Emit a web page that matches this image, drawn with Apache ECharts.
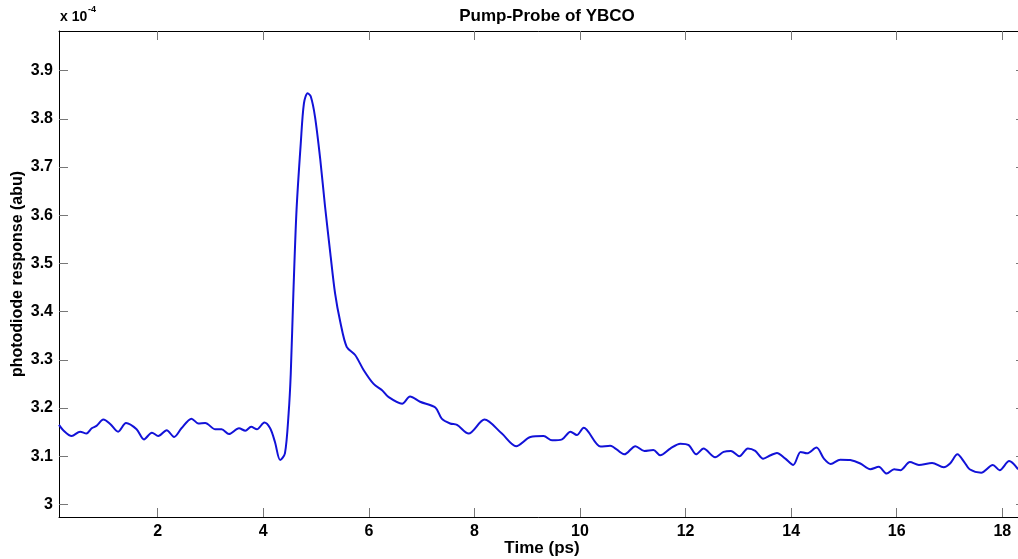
<!DOCTYPE html>
<html>
<head>
<meta charset="utf-8">
<script src="https://cdn.jsdelivr.net/npm/echarts@6/dist/echarts.min.js"></script>
<style>
html,body{margin:0;padding:0;background:#fff;}
#chart{width:1018px;height:559px;}
</style>
</head>
<body>
<div id="chart"></div>
<script>
// Time (ps)
var time = [0.13, 0.21, 0.37, 0.53, 0.65, 0.75, 0.84, 0.97, 1.10, 1.25, 1.40, 1.60, 1.74, 1.89, 2.01, 2.17, 2.31, 2.45, 2.64, 2.77, 2.90, 3.09, 3.21, 3.35, 3.54, 3.66, 3.77, 3.88, 4.02, 4.13, 4.22, 4.32, 4.41, 4.48, 4.52, 4.57, 4.63, 4.71, 4.77, 4.84, 4.90, 4.98, 5.08, 5.17, 5.27, 5.36, 5.46, 5.58, 5.74, 5.90, 6.09, 6.25, 6.37, 6.63, 6.78, 6.97, 7.26, 7.38, 7.54, 7.67, 7.89, 8.19, 8.52, 8.79, 9.06, 9.31, 9.47, 9.66, 9.82, 9.94, 10.07, 10.39, 10.57, 10.84, 11.05, 11.22, 11.39, 11.52, 11.71, 11.90, 12.06, 12.20, 12.34, 12.56, 12.72, 12.86, 13.02, 13.18, 13.32, 13.47, 13.61, 13.73, 13.89, 14.04, 14.18, 14.30, 14.48, 14.62, 14.75, 14.93, 15.12, 15.31, 15.50, 15.66, 15.81, 15.95, 16.07, 16.25, 16.42, 16.67, 16.89, 17.01, 17.15, 17.28, 17.38, 17.60, 17.82, 17.95, 18.13, 18.30];
// photodiode response (x 1e-4 abu)
var response = [3.165, 3.154, 3.142, 3.151, 3.147, 3.158, 3.163, 3.176, 3.167, 3.151, 3.169, 3.156, 3.135, 3.149, 3.142, 3.154, 3.140, 3.158, 3.178, 3.168, 3.169, 3.156, 3.156, 3.146, 3.158, 3.153, 3.161, 3.156, 3.170, 3.158, 3.130, 3.092, 3.106, 3.189, 3.270, 3.438, 3.611, 3.749, 3.832, 3.853, 3.846, 3.804, 3.715, 3.618, 3.521, 3.438, 3.378, 3.327, 3.310, 3.279, 3.250, 3.237, 3.223, 3.209, 3.224, 3.213, 3.201, 3.178, 3.168, 3.165, 3.147, 3.176, 3.147, 3.121, 3.140, 3.142, 3.133, 3.135, 3.151, 3.144, 3.159, 3.120, 3.122, 3.104, 3.121, 3.111, 3.113, 3.102, 3.116, 3.126, 3.123, 3.104, 3.116, 3.098, 3.109, 3.111, 3.100, 3.116, 3.111, 3.095, 3.102, 3.107, 3.095, 3.082, 3.109, 3.106, 3.118, 3.095, 3.084, 3.093, 3.092, 3.085, 3.073, 3.078, 3.064, 3.073, 3.071, 3.088, 3.082, 3.086, 3.077, 3.085, 3.104, 3.088, 3.073, 3.066, 3.082, 3.071, 3.090, 3.073];
var xTicks = [2, 4, 6, 8, 10, 12, 14, 16, 18];
var yTicks = [3.0, 3.1, 3.2, 3.3, 3.4, 3.5, 3.6, 3.7, 3.8, 3.9];
var titleText = 'Pump-Probe of YBCO';
var xName = 'Time (ps)';
var yName = 'photodiode response (abu)';

var FONT = '"Liberation Sans", Arial, sans-serif';
var data = time.map(function (t, i) { return [t, response[i]]; });
var xMin = 0.13, xMax = 18.43, yMin = 2.974, yMax = 3.982;

function yFmt(v) { return (Math.round(v * 10) / 10).toString(); }

var chart = echarts.init(document.getElementById('chart'), null, {renderer: 'canvas'});
var lineCol = '#000';
var tickCol = '#777';
chart.setOption({
  animation: false,
  backgroundColor: '#fff',
  title: {
    text: titleText, left: 542, top: 3, textAlign: 'center',
    textStyle: {fontFamily: FONT, fontWeight: 'bold', fontSize: 17, color: '#000'}
  },
  grid: {left: 59, right: -7, top: 31, bottom: 42, outerBoundsMode: 'none', containLabel: false},
  graphic: [
    {type: 'text', left: 60, top: 10, style: {text: 'x 10', font: 'bold 14px ' + FONT, fill: '#000'}},
    {type: 'text', left: 88, top: 5, style: {text: '-4', font: 'bold 9px ' + FONT, fill: '#000'}}
  ],
  xAxis: [{
    type: 'value', min: xMin, max: xMax, position: 'bottom',
    name: xName, nameLocation: 'middle', nameGap: 23, nameMoveOverlap: false,
    nameTextStyle: {fontFamily: FONT, fontWeight: 'bold', fontSize: 17, color: '#000'},
    axisLine: {show: true, lineStyle: {color: lineCol, width: 1}},
    axisTick: {show: true, inside: true, length: 9, customValues: xTicks, lineStyle: {color: tickCol}},
    axisLabel: {customValues: xTicks, fontFamily: FONT, fontWeight: 'bold', fontSize: 16, color: '#000', margin: 7},
    splitLine: {show: false}
  }, {
    type: 'value', min: xMin, max: xMax, position: 'top',
    axisLine: {show: true, lineStyle: {color: lineCol, width: 1}},
    axisTick: {show: true, inside: true, length: 9, customValues: xTicks, lineStyle: {color: tickCol}},
    axisLabel: {show: false, customValues: xTicks},
    splitLine: {show: false}
  }],
  yAxis: [{
    type: 'value', min: yMin, max: yMax, position: 'left',
    name: yName, nameLocation: 'middle', nameGap: 33, nameRotate: 90, nameMoveOverlap: false,
    nameTextStyle: {fontFamily: FONT, fontWeight: 'bold', fontSize: 16, color: '#000'},
    axisLine: {show: true, lineStyle: {color: lineCol, width: 1}},
    axisTick: {show: true, inside: true, length: 9, customValues: yTicks, lineStyle: {color: tickCol}},
    axisLabel: {customValues: yTicks, formatter: yFmt, fontFamily: FONT, fontWeight: 'bold', fontSize: 16, color: '#000', margin: 6},
    splitLine: {show: false}
  }, {
    type: 'value', min: yMin, max: yMax, position: 'right',
    axisLine: {show: true, lineStyle: {color: lineCol, width: 1}},
    axisTick: {show: true, inside: true, length: 9, customValues: yTicks, lineStyle: {color: tickCol}},
    axisLabel: {show: false, customValues: yTicks},
    splitLine: {show: false}
  }],
  series: [{
    type: 'line', data: data, xAxisIndex: 0, yAxisIndex: 0,
    showSymbol: false, smooth: 0.3, clip: true,
    lineStyle: {color: '#1212d8', width: 2}
  }]
});
</script>
</body>
</html>
